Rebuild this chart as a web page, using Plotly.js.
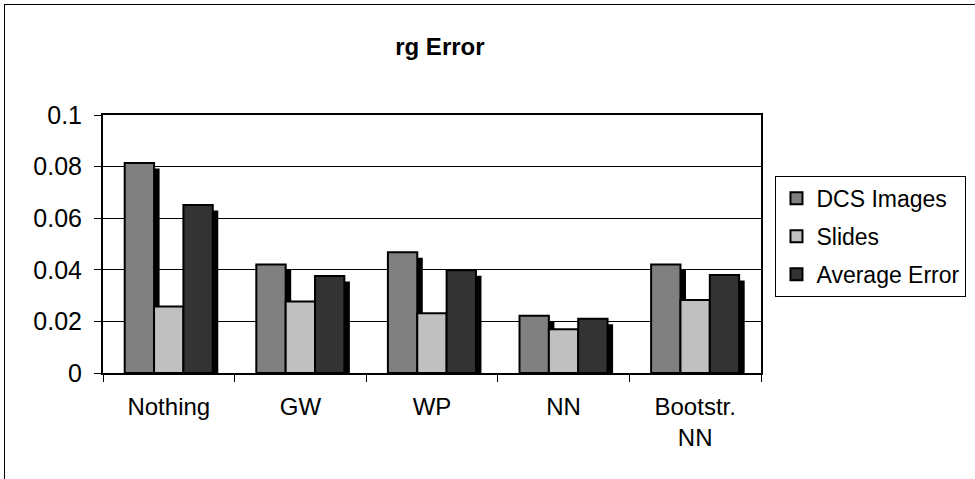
<!DOCTYPE html>
<html>
<head>
<meta charset="utf-8">
<script src="https://cdn.plot.ly/plotly-3.0.1.min.js"></script>
<style>
  html, body { margin: 0; padding: 0; background: #fff; }
  #wrap { position: relative; width: 975px; height: 479px; overflow: hidden; }
  #frame { position: absolute; left: 4px; top: 4px; width: 980px; height: 490px;
           border-left: 1.5px solid #000; border-top: 1.5px solid #000; pointer-events: none; z-index: 2; }
  #chart { position: absolute; left: 0; top: 0; width: 975px; height: 479px; }
</style>
</head>
<body>
<div id="wrap">
  <div id="chart"></div>
  <div id="frame"></div>
</div>
<script>
// ---- data ----
const categories = ["Nothing", "GW", "WP", "NN", "Bootstr.<br>NN"];
const seriesNames = ["DCS Images", "Slides", "Average Error"];
const dcsImages = [0.0814, 0.0421, 0.0468, 0.0222, 0.0421];
const slides = [0.0258, 0.0277, 0.0232, 0.0170, 0.0283];
const averageError = [0.0651, 0.0376, 0.0398, 0.0210, 0.0380];
const yTickValues = [0, 0.02, 0.04, 0.06, 0.08, 0.1];

// ---- styling ----
const colors = ["#808080", "#C0C0C0", "#333333"];
const barWidth = 0.223;
const offsets = [-0.335, -0.112, 0.111];
const shadowDx = 0.042;     // category units
const shadowDy = 0.0021;    // value units
const font = "Liberation Sans, Arial, sans-serif";

const seriesValues = [dcsImages, slides, averageError];

const shadowTraces = seriesValues.map((vals, i) => ({
  type: "bar",
  x: categories,
  y: vals.map(v => Math.max(v - shadowDy, 0)),
  width: barWidth,
  offset: offsets[i] + shadowDx,
  marker: { color: "#000000", line: { width: 0 } },
  showlegend: false,
  hoverinfo: "skip"
}));

const mainTraces = seriesValues.map((vals, i) => ({
  type: "bar",
  name: seriesNames[i],
  x: categories,
  y: vals,
  width: barWidth,
  offset: offsets[i],
  legendgroup: "g" + i,
  marker: { color: colors[i], line: { color: "#000000", width: 2 } }
}));

const layout = {
  width: 975,
  height: 479,
  margin: { l: 103, r: 214, t: 115, b: 106, autoexpand: false },
  paper_bgcolor: "rgba(0,0,0,0)",
  plot_bgcolor: "#ffffff",
  barmode: "overlay",
  font: { family: font, color: "#000", size: 23 },
  title: {
    text: "<b>rg Error</b>",
    font: { family: font, size: 24, color: "#000" },
    xref: "paper", x: 0.512, xanchor: "center",
    yref: "container", y: 0.902, yanchor: "middle"
  },
  xaxis: {
    type: "category",
    tickson: "boundaries",
    ticks: "outside",
    ticklen: 7,
    tickwidth: 1,
    tickcolor: "#000",
    showline: true, linecolor: "#000", linewidth: 2, mirror: true,
    showgrid: false,
    tickfont: { family: font, size: 24, color: "#000" },
    ticklabelstandoff: 11,
    fixedrange: true
  },
  yaxis: {
    range: [0, 0.1],
    tickvals: yTickValues,
    ticktext: yTickValues.map(v => String(v)),
    ticks: "outside",
    ticklen: 7,
    tickwidth: 1,
    tickcolor: "#000",
    showline: true, linecolor: "#000", linewidth: 2, mirror: true,
    showgrid: true, gridcolor: "#000", gridwidth: 1,
    zeroline: false,
    tickfont: { family: font, size: 25, color: "#000" },
    ticklabelstandoff: 7,
    fixedrange: true
  },
  legend: {
    x: 1.022, xanchor: "left",
    y: 0.764, yanchor: "top",
    bgcolor: "#ffffff",
    bordercolor: "#000",
    borderwidth: 1,
    font: { family: font, size: 23, color: "#000" },
    traceorder: "grouped",
    tracegroupgap: 5,
    itemwidth: 30
  },
  showlegend: true
};

Plotly.newPlot("chart", shadowTraces.concat(mainTraces), layout, { displayModeBar: false, staticPlot: true });
</script>
</body>
</html>
